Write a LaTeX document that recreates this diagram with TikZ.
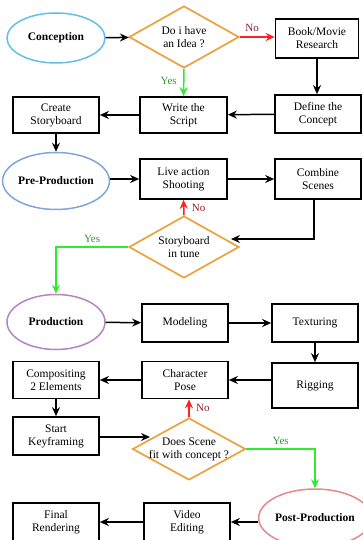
\documentclass[tikz,border=0pt]{standalone}
\usepackage{fontspec}
\setmainfont{Liberation Serif}
\usetikzlibrary{shapes.geometric,arrows.meta}
\definecolor{cConc}{HTML}{62C0E8}
\definecolor{cPre}{HTML}{7DA6DA}
\definecolor{cProd}{HTML}{B483C6}
\definecolor{cPost}{HTML}{E8868F}
\definecolor{cDia}{HTML}{EBA23C}
\definecolor{cGreen}{HTML}{30EA30}
\definecolor{cYes}{HTML}{2E9E2E}
\definecolor{cRed}{HTML}{FF2020}
\definecolor{cNo}{HTML}{8E1A2A}
\begin{document}
\begin{tikzpicture}[x=1pt,y=-1pt,
  font=\rmfamily\fontsize{11.5}{13}\selectfont,
  box/.style={draw=black,line width=1.7pt,rectangle,minimum width=86pt,align=center,inner sep=0pt},
  ell/.style={ellipse,line width=1.5pt,minimum width=98pt,minimum height=54pt,inner sep=0pt,font=\rmfamily\fontsize{11.5}{13}\selectfont\bfseries},
  dia/.style={diamond,draw=cDia,line width=1.7pt,minimum width=110pt,minimum height=62pt,inner sep=0pt},
  arr/.style={line width=1.5pt,-{Stealth[length=9pt,width=8pt,inset=3pt]}},
  garr/.style={arr,draw=cGreen},
  rarr/.style={arr,draw=cRed},
  yes/.style={text=cYes,font=\rmfamily\fontsize{11}{13}\selectfont},
  no/.style={text=cNo,font=\rmfamily\fontsize{11}{13}\selectfont}]
\useasboundingbox (0,0) rectangle (362,540);
% row 1
\node[ell,draw=cConc,minimum height=50pt] (con) at (56,38) {Conception};
\node[dia,label={[align=center]center:Do i have\\an Idea ?}] (d1) at (184,37) {};
\node[box,minimum height=39pt,minimum width=83pt] (bmr) at (317,38.5) {Book/Movie\\Research};
% row 2
\node[box,minimum height=36pt] (cs) at (56,115) {Create\\Storyboard};
\node[box,minimum height=36pt,minimum width=87pt] (wts) at (183.5,115) {Write the\\Script};
\node[box,minimum height=38pt] (dtc) at (318,114) {Define the\\Concept};
% row 3
\node[ell,draw=cPre,minimum height=57pt] (pre) at (56,181) {Pre-Production};
\node[box,minimum height=40pt,minimum width=87pt] (las) at (183.5,179) {Live action\\Shooting};
\node[box,minimum height=40pt] (cms) at (318,179) {Combine\\Scenes};
\node[dia,label={[align=center]center:Storyboard\\in tune}] (sit) at (184,247) {};
% row 4
\node[ell,draw=cProd,minimum height=55pt] (prod) at (56,322) {Production};
\node[box,minimum height=38pt] (mod) at (185,323) {Modeling};
\node[box,minimum height=38pt] (tex) at (315,323) {Texturing};
% row 5
\node[box,minimum height=37pt] (comp) at (56,380) {Compositing\\2 Elements};
\node[box,minimum height=37pt] (cp) at (185,380) {Character\\Pose};
\node[box,minimum height=45pt] (rig) at (315,385.5) {Rigging};
% row 6
\node[box,minimum height=38pt] (sk) at (56,436) {Start\\Keyframing};
\node[dia,minimum width=113pt,label={[align=center]center:Does Scene\\fit with concept ?}] (d3) at (189,449) {};
% row 7
\node[ell,draw=cPost,minimum width=100pt,minimum height=58pt] (post) at (315,518) {Post-Production};
\node[box,minimum height=38pt] (ve) at (187,522) {Video\\Editing};
\node[box,minimum height=38pt] (fr) at (56,522) {Final\\Rendering};
\coordinate (sitin) at (231,239);
\coordinate (d3in) at (150,437);
% connectors
\draw[arr] (con) -- (d1);
\draw[rarr] (d1.east) -- (bmr.west |- d1.east) node[no,pos=0.35,above=1pt] {No};
\draw[garr] (d1.south) -- (wts.north) node[yes,pos=0.45,left=3pt] {Yes};
\draw[arr] (bmr.south) -- (dtc.north -| bmr.south);
\draw[arr] (dtc) -- (wts);
\draw[arr] (wts) -- (cs);
\draw[arr] (cs.south) -- (pre.north);
\draw[arr] (pre.east |- las) -- (las.west);
\draw[arr] (las) -- (cms);
\draw[arr] (cms.south -| 314,0) |- (sitin);
\draw[rarr] (sit.north) -- (las.south) node[no,pos=0.45,right=4pt] {No};
\draw[garr] (sit.west) -| (prod.north) node[yes,pos=0.25,above=0pt] {Yes};
\draw[arr] (prod) -- (mod);
\draw[arr] (mod) -- (tex);
\draw[arr] (tex.south) -- (rig.north);
\draw[arr] (rig.west |- cp) -- (cp.east);
\draw[arr] (cp) -- (comp);
\draw[arr] (comp.south) -- (sk.north);
\draw[arr] (sk.east |- d3in) -- (d3in);
\draw[rarr] (d3.north) -- (cp.south -| d3.north) node[no,pos=0.5,right=3pt] {No};
\draw[garr] (d3.east) -| (post.north) node[yes,pos=0.25,above=0pt] {Yes};
\draw[arr] (post.west |- ve) -- (ve.east);
\draw[arr] (ve) -- (fr);
\end{tikzpicture}
\end{document}
